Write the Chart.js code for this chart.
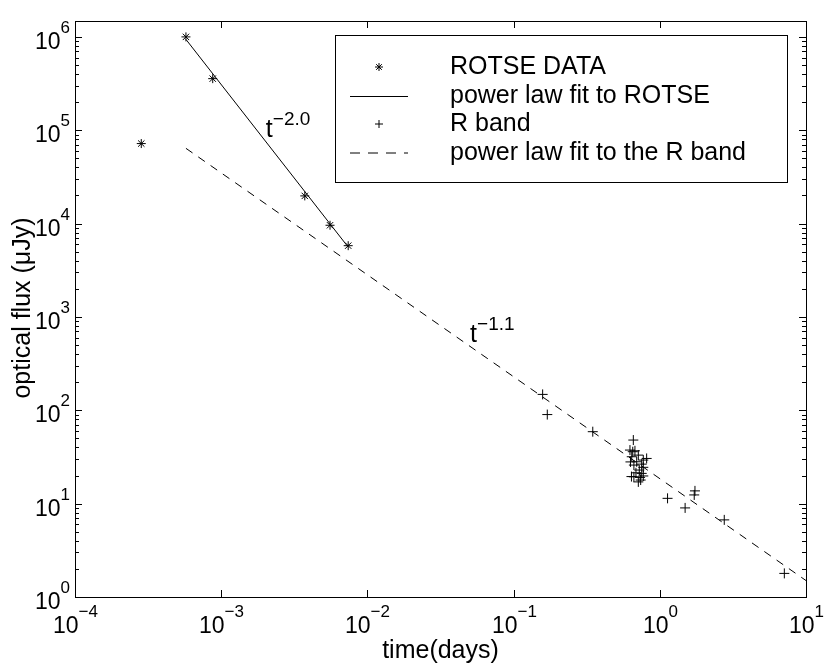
<!DOCTYPE html>
<html>
<head>
<meta charset="utf-8">
<script src="https://cdn.jsdelivr.net/npm/chart.js@4.4.1/dist/chart.umd.min.js"></script>
<style>
  html, body { margin: 0; padding: 0; background: #fff; }
  #wrap { width: 830px; height: 665px; }
</style>
</head>
<body>
<div id="wrap"><canvas id="fluxChart" width="830" height="665"></canvas></div>
<script>
// ROTSE data (time in days, flux in microJy)
const rotseTime = [2.84e-4, 5.74e-4, 8.75e-4, 3.73e-3, 5.55e-3, 7.39e-3];
const rotseFlux = [7.2e4, 1.0e6, 3.57e5, 1.98e4, 9.6e3, 5.8e3];

// power law fit to ROTSE (t^-2.0), end points
const rotseFitTime = [5.74e-4, 7.39e-3];
const rotseFitFlux = [9.4e5, 5.6e3];

// R band points
const rTime = [0.158, 0.170, 0.348,
  0.659, 0.625, 0.653, 0.676, 0.713, 0.643, 0.771, 0.813, 0.695, 0.752, 0.665,
  0.771, 0.724, 0.687, 0.752, 0.665, 0.733, 0.771, 0.713, 0.740, 0.630, 0.640,
  1.13, 1.49, 1.74, 1.72, 2.76, 7.11];
const rFlux = [148, 90, 59,
  48.0, 37.5, 36.0, 36.8, 33.1, 31.8, 29.3, 30.5, 28.1, 26.5, 25.9,
  24.5, 22.9, 21.4, 21.1, 19.4, 19.1, 19.8, 17.1, 17.9, 28.0, 19.5,
  11.4, 9.0, 13.7, 12.4, 6.7, 1.79];

// power law fit to the R band (t^-1.1), end points
const rFitTime = [5.74e-4, 10];
const rFitFlux = [6.4e4, 1.5];

// decades shown on the axes
const xTickExps = [-4, -3, -2, -1, 0, 1];
const yTickExps = [0, 1, 2, 3, 4, 5, 6];
const minorSteps = [2, 3, 4, 5, 6, 7, 8, 9];

const legendLabels = ['ROTSE DATA', 'power law fit to ROTSE', 'R band', 'power law fit to the R band'];

// slope labels: time, flux, exponent
const slopeTime = [2.02e-3, 0.0504];
const slopeFlux = [8.5e4, 541];
const slopeExp = ['\u22122.0', '\u22121.1'];

const FONT = '"Liberation Sans", Arial, Helvetica, sans-serif';
const MINUS = '\u2212';

function pts(xs, ys) {
  return xs.map((x, i) => ({ x: x, y: ys[i] }));
}

function expText(e) {
  return e < 0 ? MINUS + Math.abs(e) : String(e);
}

// base with raised exponent, e.g. 10^-4
function drawPower(ctx, x, y, base, exp, baseSize, expSize, rise, align) {
  ctx.font = baseSize + 'px ' + FONT;
  const wb = ctx.measureText(base).width;
  ctx.font = expSize + 'px ' + FONT;
  const we = ctx.measureText(exp).width;
  let left = x;
  if (align === 'center') left = x - (wb + we) / 2;
  if (align === 'right') left = x - wb - we;
  ctx.textAlign = 'left';
  ctx.textBaseline = 'alphabetic';
  ctx.font = baseSize + 'px ' + FONT;
  ctx.fillText(base, left, y);
  ctx.font = expSize + 'px ' + FONT;
  ctx.fillText(exp, left + wb, y - rise);
}

function line(ctx, x1, y1, x2, y2) {
  ctx.beginPath();
  ctx.moveTo(x1, y1);
  ctx.lineTo(x2, y2);
  ctx.stroke();
}

const decorations = {
  id: 'decorations',
  afterDraw(chart) {
    const ctx = chart.ctx;
    const ca = chart.chartArea;
    const xs = chart.scales.x;
    const ys = chart.scales.y;
    ctx.save();
    ctx.strokeStyle = '#000';
    ctx.fillStyle = '#000';
    ctx.lineWidth = 1;

    // box
    ctx.strokeRect(Math.round(ca.left) + 0.5, Math.round(ca.top) + 0.5,
      Math.round(ca.right - ca.left), Math.round(ca.bottom - ca.top));

    // x ticks, top and bottom
    xTickExps.forEach(e => {
      const px = Math.round(xs.getPixelForValue(Math.pow(10, e))) + 0.5;
      line(ctx, px, ca.bottom, px, ca.bottom - 7);
      line(ctx, px, ca.top, px, ca.top + 7);
      drawPower(ctx, px, 633, '10', expText(e), 23, 17, 16, 'center');
    });

    // y ticks, left and right
    yTickExps.forEach(e => {
      const v = Math.pow(10, e);
      const py = Math.round(ys.getPixelForValue(v)) + 0.5;
      line(ctx, ca.left, py, ca.left + 7, py);
      line(ctx, ca.right, py, ca.right - 7, py);
      drawPower(ctx, 70, py + 11.5, '10', expText(e), 23, 17, 16, 'right');
      minorSteps.forEach(m => {
        if (m * v > ys.max) return;
        const my = Math.round(ys.getPixelForValue(m * v)) + 0.5;
        line(ctx, ca.left, my, ca.left + 4, my);
        line(ctx, ca.right, my, ca.right - 4, my);
      });
    });

    // axis titles
    ctx.font = '25px ' + FONT;
    ctx.textAlign = 'center';
    ctx.textBaseline = 'middle';
    ctx.fillText('time(days)', (ca.left + ca.right) / 2, 651);
    ctx.save();
    ctx.translate(23, (ca.top + ca.bottom) / 2 - 1);
    ctx.rotate(-Math.PI / 2);
    ctx.fillText('optical flux (\u03bcJy)', 0, 0);
    ctx.restore();

    // slope labels
    slopeTime.forEach((t, i) => {
      drawPower(ctx, xs.getPixelForValue(t), ys.getPixelForValue(slopeFlux[i]),
        't', slopeExp[i], 25, 19, 12, 'left');
    });

    // legend box
    const box = { left: 335, top: 35, right: 787, bottom: 182 };
    ctx.fillStyle = '#fff';
    ctx.fillRect(box.left, box.top, box.right - box.left, box.bottom - box.top);
    ctx.strokeRect(box.left + 0.5, box.top + 0.5, box.right - box.left, box.bottom - box.top);
    ctx.fillStyle = '#000';
    const rows = [67, 96.5, 124, 153];
    const mx = 379;
    // star
    const r = 4;
    const d = r * Math.SQRT1_2;
    line(ctx, mx - r, rows[0], mx + r, rows[0]);
    line(ctx, mx, rows[0] - r, mx, rows[0] + r);
    line(ctx, mx - d, rows[0] - d, mx + d, rows[0] + d);
    line(ctx, mx - d, rows[0] + d, mx + d, rows[0] - d);
    // solid line
    line(ctx, 350, rows[1], 408, rows[1]);
    // plus
    line(ctx, mx - 4, rows[2], mx + 4, rows[2]);
    line(ctx, mx, rows[2] - 4, mx, rows[2] + 4);
    // dashed line
    ctx.setLineDash([10, 8]);
    line(ctx, 350, rows[3], 408, rows[3]);
    ctx.setLineDash([]);

    ctx.font = '25px ' + FONT;
    ctx.textAlign = 'left';
    ctx.textBaseline = 'middle';
    legendLabels.forEach((lab, i) => ctx.fillText(lab, 450, rows[i]));
    ctx.restore();
  }
};

new Chart('fluxChart', {
  type: 'scatter',
  data: {
    datasets: [
      {
        label: legendLabels[0],
        data: pts(rotseTime, rotseFlux),
        pointStyle: 'star',
        pointRadius: 4.5,
        borderColor: '#000',
        backgroundColor: '#000',
        borderWidth: 1
      },
      {
        label: legendLabels[1],
        data: pts(rotseFitTime, rotseFitFlux),
        showLine: true,
        pointRadius: 0,
        borderColor: '#000',
        borderWidth: 1
      },
      {
        label: legendLabels[2],
        data: pts(rTime, rFlux),
        pointStyle: 'cross',
        pointRadius: 5,
        borderColor: '#000',
        backgroundColor: '#000',
        borderWidth: 1
      },
      {
        label: legendLabels[3],
        data: pts(rFitTime, rFitFlux),
        showLine: true,
        pointRadius: 0,
        borderColor: '#000',
        borderWidth: 1,
        borderDash: [8, 7]
      }
    ]
  },
  options: {
    responsive: false,
    animation: false,
    layout: { padding: { top: 21, right: 24, left: 0, bottom: 0 } },
    plugins: {
      legend: { display: false },
      tooltip: { enabled: false }
    },
    scales: {
      x: {
        type: 'logarithmic',
        min: 1e-4,
        max: 10,
        ticks: { display: false },
        grid: { display: false },
        border: { display: false },
        afterFit: s => { s.height = 68; }
      },
      y: {
        type: 'logarithmic',
        min: 1,
        max: 1.48e6,
        ticks: { display: false },
        grid: { display: false },
        border: { display: false },
        afterFit: s => { s.width = 75; }
      }
    }
  },
  plugins: [decorations]
});
</script>
</body>
</html>
